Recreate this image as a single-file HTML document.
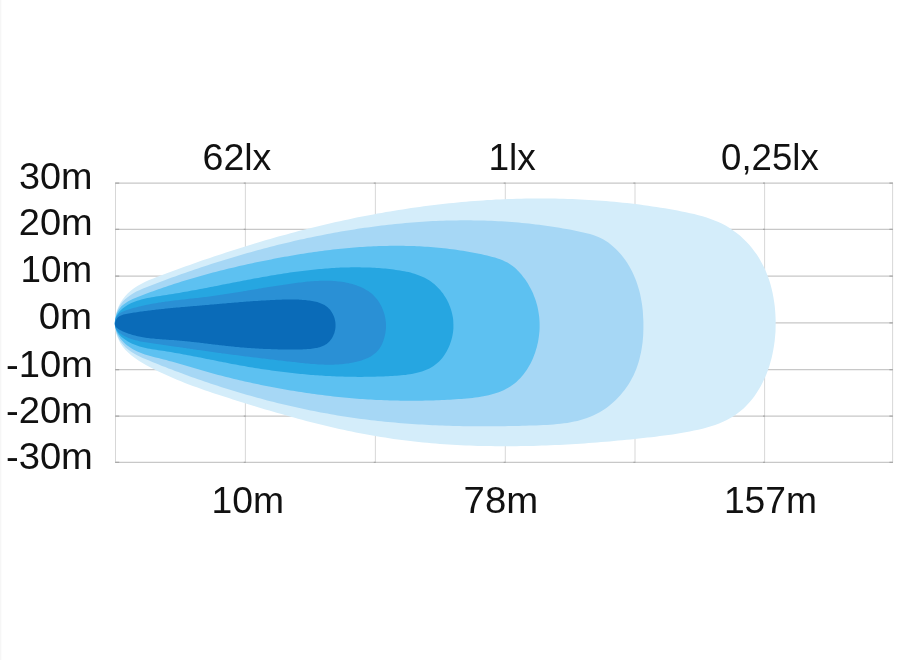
<!DOCTYPE html>
<html><head><meta charset="utf-8"><title>Beam pattern</title>
<style>
html,body{margin:0;padding:0;background:#fff;}
body{width:900px;height:660px;overflow:hidden;}
svg{display:block;}
text{font-family:"Liberation Sans",sans-serif;fill:#111;}
</style></head><body>
<svg width="900" height="660" viewBox="0 0 900 660">
<rect width="900" height="660" fill="#fff"/>
<rect x="0" y="0" width="1.3" height="660" fill="#f6f6f6"/>
<g fill="none">
<path stroke="#d3d3d3" stroke-width="0.9" d="M115.5 183.0V462.3M245.4 183.0V462.3M375.4 183.0V462.3M505.3 183.0V462.3M635.0 183.0V462.3M764.6 183.0V462.3M892.6 183.0V462.3"/>
<path stroke="#c8c8c8" stroke-width="1.25" d="M115.1 183.0H893.0M115.1 229.4H893.0M115.1 276.0H893.0M115.1 322.9H893.0M115.1 369.6H893.0M115.1 416.0H893.0M115.1 462.3H893.0"/>
<path stroke="#a9a9a9" stroke-width="1.25" d="M115.2 183.0h4M892.9 183.0h-3.5M243.8 183.0h2M373.8 183.0h2M503.7 183.0h2M633.4 183.0h2M763.0 183.0h2M115.2 229.4h4M892.9 229.4h-3.5M243.8 229.4h2M373.8 229.4h2M503.7 229.4h2M633.4 229.4h2M763.0 229.4h2M115.2 276.0h4M892.9 276.0h-3.5M243.8 276.0h2M373.8 276.0h2M503.7 276.0h2M633.4 276.0h2M763.0 276.0h2M115.2 322.9h4M892.9 322.9h-3.5M243.8 322.9h2M373.8 322.9h2M503.7 322.9h2M633.4 322.9h2M763.0 322.9h2M115.2 369.6h4M892.9 369.6h-3.5M243.8 369.6h2M373.8 369.6h2M503.7 369.6h2M633.4 369.6h2M763.0 369.6h2M115.2 416.0h4M892.9 416.0h-3.5M243.8 416.0h2M373.8 416.0h2M503.7 416.0h2M633.4 416.0h2M763.0 416.0h2M115.2 462.3h4M892.9 462.3h-3.5M243.8 462.3h2M373.8 462.3h2M503.7 462.3h2M633.4 462.3h2M763.0 462.3h2"/>
</g>
<g id="beam">
<path fill="#d4edfa" d="M114.8 323.4L115.1 319.1L115.8 314.9L116.9 310.8L118.4 306.8L120.3 303.0L122.6 299.4L125.1 296.2L127.9 293.2L131.0 290.5L134.3 288.1L137.8 285.8L141.5 283.7L145.3 281.8L149.2 280.0L153.2 278.4L157.3 276.8L161.4 275.2L165.5 273.7L169.5 272.2L173.6 270.7L177.7 269.2L181.7 267.7L185.8 266.3L189.8 264.9L193.8 263.4L197.9 262.0L201.9 260.6L205.9 259.2L209.9 257.9L213.9 256.5L217.9 255.2L221.9 253.9L226.0 252.5L230.0 251.2L234.0 250.0L238.0 248.7L242.0 247.4L246.0 246.2L250.0 244.9L254.0 243.7L258.1 242.5L262.1 241.3L266.1 240.1L270.2 238.9L274.2 237.8L278.3 236.6L282.4 235.5L286.5 234.4L290.5 233.3L294.6 232.2L298.7 231.1L302.8 230.1L306.9 229.0L311.0 228.0L315.2 227.0L319.3 226.0L323.4 225.0L327.6 224.0L331.7 223.0L335.8 222.1L340.0 221.2L344.1 220.3L348.3 219.4L352.5 218.5L356.6 217.6L360.8 216.8L365.0 216.0L369.2 215.2L373.3 214.4L377.5 213.6L381.7 212.9L385.9 212.1L390.1 211.4L394.3 210.7L398.5 210.0L402.7 209.4L406.9 208.7L411.1 208.1L415.3 207.5L419.5 206.9L423.8 206.3L428.0 205.8L432.2 205.2L436.4 204.7L440.6 204.2L444.9 203.8L449.1 203.3L453.3 202.9L457.6 202.5L461.8 202.1L466.0 201.7L470.3 201.3L474.5 201.0L478.7 200.7L483.0 200.4L487.2 200.1L491.5 199.9L495.7 199.6L499.9 199.4L504.2 199.2L508.4 199.1L512.7 198.9L516.9 198.8L521.2 198.7L525.4 198.6L529.7 198.5L533.9 198.5L538.1 198.4L542.4 198.4L546.6 198.5L550.9 198.5L555.1 198.6L559.4 198.7L563.6 198.8L567.8 198.9L572.1 199.1L576.3 199.2L580.5 199.4L584.8 199.7L589.0 199.9L593.2 200.2L597.5 200.5L601.7 200.8L605.9 201.1L610.2 201.5L614.4 201.8L618.6 202.3L622.8 202.7L627.0 203.1L631.3 203.6L635.5 204.1L639.7 204.6L643.9 205.2L648.1 205.8L652.3 206.4L656.5 207.0L660.7 207.7L664.9 208.3L669.1 209.1L673.3 209.8L677.5 210.6L681.7 211.4L685.9 212.3L690.0 213.2L694.2 214.1L698.4 215.2L702.5 216.3L706.6 217.5L710.6 218.9L714.5 220.4L718.4 222.0L722.2 223.8L726.0 225.8L729.6 228.0L733.1 230.4L736.6 232.9L739.9 235.6L743.0 238.5L746.1 241.5L749.0 244.6L751.7 247.8L754.3 251.2L756.8 254.6L759.0 258.1L761.1 261.7L763.1 265.4L764.9 269.1L766.5 272.9L768.0 276.8L769.4 280.8L770.6 284.8L771.7 288.9L772.6 293.0L773.4 297.2L774.1 301.4L774.7 305.7L775.1 310.0L775.4 314.4L775.6 318.7L775.7 323.1L775.6 327.5L775.5 331.9L775.1 336.3L774.7 340.7L774.1 345.0L773.4 349.3L772.6 353.6L771.6 357.9L770.5 362.0L769.3 366.2L767.9 370.2L766.4 374.2L764.7 378.1L762.9 381.9L761.0 385.7L758.9 389.3L756.7 392.8L754.4 396.2L751.9 399.4L749.3 402.5L746.5 405.5L743.6 408.4L740.5 411.0L737.3 413.5L733.9 415.9L730.4 418.1L726.8 420.0L723.0 421.8L719.1 423.5L715.1 425.0L711.0 426.3L706.8 427.6L702.6 428.7L698.3 429.7L694.0 430.6L689.7 431.5L685.4 432.3L681.1 433.0L676.8 433.7L672.6 434.4L668.4 435.0L664.1 435.6L659.9 436.1L655.7 436.7L651.6 437.2L647.4 437.6L643.2 438.1L639.0 438.5L634.8 439.0L630.7 439.4L626.5 439.8L622.3 440.2L618.1 440.6L613.9 441.0L609.7 441.4L605.5 441.8L601.2 442.1L597.0 442.4L592.8 442.8L588.6 443.1L584.4 443.4L580.1 443.7L575.9 443.9L571.7 444.2L567.4 444.5L563.2 444.7L558.9 444.9L554.7 445.1L550.4 445.3L546.2 445.5L542.0 445.6L537.7 445.8L533.4 445.9L529.2 446.0L524.9 446.1L520.7 446.1L516.4 446.2L512.2 446.2L507.9 446.3L503.7 446.3L499.4 446.2L495.2 446.2L490.9 446.1L486.6 446.1L482.4 446.0L478.1 445.9L473.9 445.7L469.6 445.6L465.4 445.4L461.1 445.2L456.9 445.0L452.6 444.7L448.4 444.5L444.2 444.2L439.9 443.9L435.7 443.5L431.5 443.2L427.2 442.8L423.0 442.4L418.8 442.0L414.5 441.5L410.3 441.0L406.1 440.5L401.9 440.0L397.7 439.4L393.5 438.9L389.3 438.2L385.1 437.6L380.9 437.0L376.7 436.3L372.5 435.6L368.3 434.8L364.2 434.0L360.0 433.2L355.8 432.4L351.7 431.6L347.5 430.7L343.4 429.8L339.2 428.9L335.1 428.0L330.9 427.0L326.8 426.1L322.7 425.1L318.5 424.0L314.4 423.0L310.3 422.0L306.2 420.9L302.1 419.8L298.0 418.7L293.9 417.6L289.8 416.4L285.7 415.3L281.6 414.1L277.5 413.0L273.4 411.8L269.4 410.6L265.3 409.4L261.2 408.2L257.2 406.9L253.1 405.7L249.1 404.5L245.0 403.2L241.0 401.9L236.9 400.7L232.9 399.4L228.8 398.1L224.8 396.8L220.8 395.5L216.8 394.2L212.8 392.9L208.7 391.5L204.7 390.2L200.8 388.8L196.8 387.3L192.8 385.9L188.8 384.4L184.9 382.9L180.9 381.3L177.0 379.7L173.0 378.0L169.1 376.3L165.2 374.5L161.3 372.7L157.4 370.9L153.6 368.9L149.7 367.0L145.9 364.9L142.1 362.7L138.4 360.5L134.9 358.1L131.5 355.5L128.4 352.8L125.5 349.9L122.8 346.8L120.5 343.4L118.6 339.7L117.0 335.9L115.8 331.8L115.1 327.6Z"/>
<path fill="#a6d7f5" d="M114.9 323.3L115.1 319.8L115.6 316.3L116.5 312.9L117.8 309.6L119.3 306.6L121.1 303.8L123.1 301.3L125.4 299.0L127.9 296.9L130.6 295.0L133.4 293.3L136.3 291.6L139.4 290.2L142.5 288.8L145.7 287.4L149.0 286.2L152.2 284.9L155.5 283.7L158.7 282.4L162.0 281.2L165.3 280.0L168.5 278.8L171.8 277.6L175.1 276.4L178.3 275.3L181.6 274.1L184.9 273.0L188.2 271.8L191.4 270.7L194.7 269.6L198.0 268.4L201.3 267.3L204.6 266.3L207.8 265.2L211.1 264.1L214.4 263.1L217.7 262.0L221.0 261.0L224.3 259.9L227.6 258.9L230.9 257.9L234.2 256.9L237.5 256.0L240.8 255.0L244.1 254.0L247.4 253.1L250.7 252.2L254.0 251.2L257.3 250.3L260.6 249.4L263.9 248.5L267.2 247.7L270.6 246.8L273.9 246.0L277.2 245.1L280.5 244.3L283.9 243.5L287.2 242.7L290.5 241.9L293.9 241.1L297.2 240.3L300.5 239.6L303.9 238.9L307.2 238.1L310.6 237.4L313.9 236.7L317.3 236.0L320.6 235.4L324.0 234.7L327.3 234.1L330.7 233.4L334.1 232.8L337.4 232.2L340.8 231.6L344.2 231.0L347.5 230.5L350.9 229.9L354.3 229.4L357.7 228.8L361.1 228.3L364.5 227.8L367.9 227.4L371.3 226.9L374.7 226.4L378.1 226.0L381.5 225.6L384.9 225.2L388.3 224.8L391.7 224.4L395.1 224.1L398.5 223.7L401.9 223.4L405.3 223.1L408.8 222.8L412.2 222.5L415.6 222.2L419.0 222.0L422.5 221.7L425.9 221.5L429.3 221.3L432.7 221.1L436.2 221.0L439.6 220.8L443.0 220.7L446.5 220.6L449.9 220.5L453.3 220.4L456.8 220.4L460.2 220.3L463.6 220.3L467.1 220.3L470.5 220.3L473.9 220.4L477.4 220.4L480.8 220.5L484.2 220.6L487.7 220.7L491.1 220.8L494.5 221.0L498.0 221.2L501.4 221.3L504.8 221.6L508.3 221.8L511.7 222.0L515.1 222.3L518.6 222.6L522.0 222.9L525.4 223.3L528.8 223.6L532.3 224.0L535.7 224.4L539.1 224.8L542.5 225.3L545.9 225.7L549.4 226.2L552.8 226.7L556.2 227.3L559.6 227.8L563.0 228.4L566.4 229.0L569.8 229.6L573.2 230.3L576.5 231.0L579.9 231.7L583.3 232.4L586.6 233.2L590.0 234.1L593.2 235.1L596.4 236.3L599.5 237.6L602.6 239.1L605.5 240.8L608.3 242.6L611.0 244.7L613.6 246.9L616.1 249.2L618.5 251.7L620.8 254.3L623.0 257.0L625.1 259.8L627.0 262.6L628.8 265.6L630.5 268.6L632.1 271.6L633.6 274.7L635.0 277.9L636.2 281.1L637.3 284.3L638.3 287.5L639.3 290.8L640.1 294.1L640.8 297.5L641.4 300.8L642.0 304.2L642.4 307.6L642.8 311.1L643.0 314.5L643.2 317.9L643.4 321.4L643.4 324.9L643.4 328.4L643.3 331.8L643.2 335.3L642.9 338.8L642.6 342.2L642.1 345.7L641.6 349.1L641.0 352.5L640.2 355.8L639.4 359.2L638.5 362.5L637.4 365.7L636.3 369.0L635.0 372.1L633.6 375.3L632.0 378.3L630.4 381.3L628.6 384.3L626.7 387.1L624.6 389.9L622.5 392.6L620.3 395.3L617.9 397.8L615.5 400.2L613.0 402.6L610.4 404.8L607.7 406.9L604.9 408.9L602.1 410.7L599.2 412.5L596.2 414.1L593.2 415.5L590.2 416.8L587.0 418.0L583.9 419.1L580.6 420.0L577.4 420.9L574.1 421.6L570.7 422.3L567.4 422.9L564.0 423.3L560.6 423.8L557.1 424.1L553.7 424.4L550.2 424.7L546.7 424.9L543.2 425.1L539.7 425.2L536.2 425.4L532.7 425.5L529.2 425.6L525.7 425.7L522.2 425.8L518.7 425.9L515.2 426.0L511.8 426.0L508.3 426.1L504.8 426.2L501.3 426.2L497.9 426.3L494.4 426.3L490.9 426.3L487.5 426.3L484.0 426.3L480.5 426.3L477.1 426.3L473.6 426.3L470.2 426.3L466.7 426.2L463.3 426.2L459.9 426.1L456.4 426.0L453.0 425.9L449.6 425.8L446.1 425.7L442.7 425.6L439.3 425.5L435.9 425.3L432.4 425.2L429.0 425.0L425.6 424.8L422.2 424.6L418.8 424.4L415.4 424.2L412.0 424.0L408.6 423.7L405.2 423.5L401.8 423.2L398.4 422.9L395.0 422.6L391.6 422.3L388.2 422.0L384.8 421.7L381.4 421.3L378.0 420.9L374.6 420.6L371.2 420.2L367.9 419.8L364.5 419.3L361.1 418.9L357.7 418.4L354.3 418.0L351.0 417.5L347.6 417.0L344.2 416.5L340.9 415.9L337.5 415.4L334.1 414.8L330.8 414.2L327.4 413.6L324.0 413.0L320.7 412.4L317.3 411.7L314.0 411.1L310.6 410.4L307.3 409.7L303.9 409.0L300.6 408.3L297.2 407.6L293.9 406.8L290.5 406.1L287.2 405.3L283.9 404.5L280.5 403.7L277.2 402.9L273.9 402.1L270.5 401.2L267.2 400.4L263.9 399.5L260.6 398.6L257.2 397.7L253.9 396.8L250.6 395.8L247.3 394.9L244.0 393.9L240.7 393.0L237.4 392.0L234.1 391.0L230.8 390.0L227.5 389.0L224.2 387.9L220.9 386.9L217.6 385.8L214.3 384.7L211.0 383.7L207.7 382.6L204.4 381.4L201.2 380.3L197.9 379.2L194.6 378.0L191.3 376.9L188.1 375.7L184.8 374.5L181.6 373.3L178.3 372.1L175.0 370.9L171.8 369.6L168.5 368.4L165.3 367.1L162.0 365.9L158.8 364.6L155.6 363.3L152.3 362.0L149.1 360.6L145.9 359.3L142.7 357.9L139.6 356.5L136.6 354.9L133.6 353.3L130.8 351.5L128.2 349.5L125.7 347.4L123.4 345.1L121.4 342.6L119.5 339.9L118.0 336.9L116.7 333.7L115.7 330.3L115.1 326.8Z"/>
<path fill="#5dc1f1" d="M114.9 323.2L115.0 320.4L115.4 317.7L116.2 315.1L117.2 312.6L118.5 310.2L120.0 308.1L121.7 306.1L123.6 304.4L125.7 302.9L127.9 301.5L130.3 300.2L132.7 299.0L135.2 298.0L137.7 296.9L140.3 295.9L142.9 295.0L145.4 294.0L148.0 293.0L150.6 292.1L153.1 291.2L155.7 290.2L158.3 289.3L160.9 288.4L163.4 287.5L166.0 286.7L168.6 285.8L171.2 284.9L173.8 284.1L176.4 283.3L179.0 282.4L181.6 281.6L184.2 280.8L186.8 280.0L189.4 279.2L192.0 278.5L194.6 277.7L197.2 276.9L199.8 276.2L202.4 275.5L205.0 274.7L207.7 274.0L210.3 273.3L212.9 272.6L215.5 271.9L218.1 271.3L220.8 270.6L223.4 269.9L226.0 269.3L228.7 268.6L231.3 268.0L233.9 267.4L236.6 266.7L239.2 266.1L241.9 265.5L244.5 264.9L247.2 264.3L249.8 263.7L252.5 263.2L255.1 262.6L257.8 262.0L260.4 261.5L263.1 260.9L265.8 260.4L268.4 259.9L271.1 259.4L273.8 258.8L276.4 258.3L279.1 257.8L281.8 257.3L284.5 256.8L287.1 256.4L289.8 255.9L292.5 255.4L295.2 255.0L297.9 254.5L300.6 254.1L303.2 253.7L305.9 253.2L308.6 252.8L311.3 252.4L314.0 252.0L316.7 251.7L319.4 251.3L322.1 250.9L324.8 250.6L327.5 250.2L330.2 249.9L332.9 249.6L335.6 249.3L338.3 249.0L341.0 248.7L343.7 248.4L346.4 248.2L349.1 247.9L351.8 247.7L354.5 247.5L357.2 247.3L359.9 247.1L362.7 246.9L365.4 246.7L368.1 246.6L370.8 246.4L373.5 246.3L376.2 246.2L378.9 246.1L381.6 246.0L384.3 245.9L387.0 245.9L389.8 245.8L392.5 245.8L395.2 245.8L397.9 245.8L400.6 245.8L403.3 245.8L406.0 245.9L408.7 245.9L411.5 246.0L414.2 246.1L416.9 246.2L419.6 246.3L422.3 246.5L425.0 246.7L427.7 246.8L430.4 247.0L433.1 247.3L435.8 247.5L438.5 247.7L441.2 248.0L443.9 248.3L446.7 248.6L449.4 248.9L452.1 249.3L454.8 249.6L457.5 250.0L460.2 250.4L462.9 250.8L465.6 251.3L468.2 251.7L470.9 252.2L473.6 252.7L476.3 253.2L479.0 253.8L481.7 254.3L484.4 254.9L487.1 255.5L489.7 256.2L492.4 256.9L495.0 257.6L497.6 258.4L500.1 259.3L502.6 260.3L505.0 261.4L507.4 262.6L509.7 264.0L511.9 265.5L514.0 267.1L516.0 268.8L517.9 270.7L519.8 272.7L521.6 274.7L523.2 276.9L524.9 279.0L526.4 281.3L527.9 283.5L529.2 285.9L530.5 288.3L531.8 290.7L532.9 293.1L533.9 295.7L534.9 298.2L535.8 300.8L536.6 303.4L537.3 306.0L537.9 308.7L538.4 311.4L538.8 314.1L539.2 316.8L539.4 319.6L539.6 322.4L539.6 325.1L539.6 327.9L539.5 330.7L539.2 333.5L538.9 336.3L538.5 339.1L538.0 341.9L537.4 344.6L536.7 347.4L535.9 350.0L535.1 352.7L534.1 355.3L533.1 357.9L532.0 360.4L530.8 362.9L529.5 365.3L528.2 367.6L526.7 369.9L525.2 372.1L523.6 374.2L521.9 376.3L520.2 378.2L518.3 380.1L516.4 381.9L514.5 383.5L512.4 385.0L510.3 386.5L508.1 387.8L505.9 389.0L503.6 390.2L501.2 391.2L498.8 392.2L496.3 393.0L493.8 393.8L491.2 394.6L488.6 395.2L486.0 395.8L483.3 396.3L480.6 396.8L477.9 397.2L475.1 397.6L472.4 397.9L469.6 398.2L466.8 398.5L464.0 398.7L461.2 398.9L458.4 399.1L455.6 399.3L452.8 399.5L450.0 399.7L447.2 399.8L444.5 399.9L441.7 400.1L438.9 400.2L436.2 400.3L433.4 400.4L430.6 400.5L427.9 400.5L425.1 400.6L422.4 400.7L419.6 400.7L416.9 400.7L414.2 400.7L411.4 400.7L408.7 400.7L406.0 400.7L403.2 400.7L400.5 400.7L397.8 400.6L395.1 400.6L392.4 400.5L389.7 400.4L387.0 400.3L384.3 400.2L381.5 400.1L378.9 400.0L376.2 399.9L373.5 399.7L370.8 399.6L368.1 399.4L365.4 399.2L362.7 399.1L360.0 398.9L357.3 398.7L354.6 398.5L352.0 398.2L349.3 398.0L346.6 397.8L343.9 397.5L341.2 397.2L338.6 397.0L335.9 396.7L333.2 396.4L330.5 396.1L327.9 395.8L325.2 395.5L322.5 395.1L319.8 394.8L317.2 394.4L314.5 394.1L311.8 393.7L309.2 393.3L306.5 392.9L303.8 392.5L301.1 392.1L298.5 391.7L295.8 391.3L293.1 390.8L290.4 390.4L287.8 389.9L285.1 389.5L282.4 389.0L279.7 388.5L277.1 388.0L274.4 387.5L271.7 387.0L269.0 386.5L266.3 386.0L263.6 385.4L261.0 384.9L258.3 384.3L255.6 383.7L252.9 383.2L250.2 382.6L247.5 382.0L244.8 381.4L242.1 380.8L239.5 380.2L236.8 379.5L234.1 378.9L231.4 378.2L228.8 377.6L226.1 376.9L223.5 376.3L220.8 375.6L218.2 374.9L215.6 374.2L212.9 373.5L210.3 372.8L207.7 372.0L205.1 371.3L202.5 370.6L200.0 369.8L197.4 369.1L194.8 368.3L192.3 367.6L189.7 366.8L187.1 366.0L184.6 365.3L182.0 364.5L179.4 363.8L176.8 363.0L174.2 362.3L171.6 361.6L169.0 360.9L166.3 360.1L163.7 359.5L161.0 358.8L158.3 358.1L155.6 357.4L152.9 356.7L150.2 356.0L147.6 355.2L144.9 354.4L142.3 353.5L139.8 352.5L137.3 351.4L134.8 350.3L132.5 349.0L130.2 347.6L128.0 346.0L125.9 344.4L123.9 342.5L122.0 340.5L120.3 338.4L118.8 336.1L117.5 333.7L116.4 331.2L115.6 328.6L115.1 325.9Z"/>
<path fill="#26a6e1" d="M114.8 323.3L114.9 321.2L115.3 319.1L116.0 317.1L116.9 315.2L118.0 313.4L119.3 311.7L120.7 310.2L122.3 308.7L124.0 307.4L125.7 306.2L127.6 305.1L129.4 304.1L131.3 303.1L133.3 302.3L135.2 301.5L137.2 300.8L139.2 300.2L141.2 299.6L143.3 299.0L145.4 298.5L147.4 298.1L149.5 297.7L151.7 297.3L153.8 296.9L155.9 296.6L158.0 296.2L160.2 295.9L162.3 295.6L164.4 295.3L166.6 294.9L168.7 294.6L170.8 294.3L172.9 293.9L175.0 293.6L177.1 293.2L179.2 292.9L181.3 292.5L183.4 292.1L185.5 291.8L187.6 291.4L189.7 291.0L191.8 290.6L193.9 290.2L195.9 289.9L198.0 289.5L200.1 289.1L202.2 288.7L204.3 288.3L206.3 287.9L208.4 287.5L210.5 287.1L212.6 286.7L214.6 286.3L216.7 285.9L218.8 285.5L220.9 285.1L222.9 284.6L225.0 284.2L227.1 283.8L229.2 283.4L231.2 283.0L233.3 282.6L235.4 282.2L237.5 281.8L239.5 281.4L241.6 281.0L243.7 280.6L245.8 280.2L247.9 279.8L250.0 279.4L252.0 279.0L254.1 278.6L256.2 278.2L258.3 277.9L260.4 277.5L262.5 277.1L264.6 276.7L266.7 276.4L268.8 276.0L270.9 275.6L273.0 275.3L275.1 274.9L277.2 274.6L279.3 274.3L281.4 273.9L283.5 273.6L285.6 273.3L287.7 273.0L289.8 272.6L291.9 272.3L294.0 272.0L296.1 271.8L298.2 271.5L300.3 271.2L302.4 270.9L304.5 270.7L306.6 270.4L308.8 270.2L310.9 269.9L313.0 269.7L315.1 269.5L317.2 269.3L319.3 269.1L321.4 268.9L323.6 268.7L325.7 268.5L327.8 268.4L329.9 268.2L332.0 268.1L334.2 268.0L336.3 267.8L338.4 267.7L340.5 267.6L342.7 267.6L344.8 267.5L346.9 267.4L349.0 267.4L351.1 267.3L353.3 267.3L355.4 267.3L357.5 267.3L359.7 267.3L361.8 267.4L363.9 267.4L366.0 267.5L368.2 267.5L370.3 267.6L372.4 267.7L374.6 267.8L376.7 268.0L378.8 268.1L380.9 268.3L383.1 268.4L385.2 268.6L387.3 268.8L389.5 269.1L391.6 269.3L393.7 269.6L395.9 269.9L398.0 270.2L400.1 270.5L402.2 270.9L404.3 271.2L406.4 271.7L408.5 272.1L410.5 272.6L412.5 273.2L414.5 273.8L416.5 274.5L418.5 275.2L420.4 275.9L422.3 276.7L424.1 277.6L426.0 278.5L427.7 279.6L429.5 280.6L431.2 281.8L432.8 283.0L434.5 284.3L436.0 285.7L437.5 287.2L439.0 288.7L440.4 290.3L441.7 291.9L443.0 293.6L444.2 295.4L445.4 297.2L446.5 299.1L447.5 301.0L448.5 303.0L449.3 305.0L450.1 307.0L450.8 309.1L451.5 311.2L452.0 313.3L452.5 315.5L452.9 317.6L453.2 319.8L453.3 322.0L453.4 324.2L453.4 326.4L453.4 328.6L453.2 330.8L452.9 333.0L452.5 335.2L452.1 337.3L451.5 339.5L450.9 341.6L450.2 343.6L449.4 345.7L448.6 347.6L447.6 349.6L446.6 351.5L445.5 353.3L444.4 355.1L443.2 356.8L441.9 358.4L440.5 359.9L439.1 361.4L437.6 362.8L436.1 364.1L434.5 365.3L432.8 366.4L431.1 367.4L429.4 368.4L427.6 369.2L425.7 370.0L423.9 370.8L421.9 371.4L420.0 372.1L418.0 372.6L416.0 373.1L413.9 373.5L411.8 373.9L409.7 374.3L407.6 374.6L405.5 374.9L403.3 375.1L401.1 375.3L399.0 375.5L396.8 375.7L394.6 375.8L392.4 376.0L390.2 376.1L388.0 376.2L385.8 376.3L383.7 376.4L381.5 376.5L379.3 376.5L377.1 376.6L375.0 376.7L372.8 376.7L370.7 376.8L368.5 376.8L366.3 376.8L364.2 376.8L362.0 376.9L359.9 376.9L357.7 376.9L355.6 376.8L353.5 376.8L351.3 376.8L349.2 376.8L347.1 376.7L344.9 376.7L342.8 376.6L340.7 376.5L338.5 376.5L336.4 376.4L334.3 376.3L332.2 376.2L330.1 376.1L328.0 376.0L325.8 375.9L323.7 375.8L321.6 375.6L319.5 375.5L317.4 375.3L315.3 375.2L313.2 375.0L311.1 374.9L309.0 374.7L306.9 374.5L304.8 374.3L302.7 374.1L300.6 373.9L298.5 373.7L296.4 373.5L294.3 373.3L292.2 373.1L290.1 372.8L288.1 372.6L286.0 372.3L283.9 372.1L281.8 371.8L279.7 371.6L277.6 371.3L275.5 371.0L273.4 370.7L271.4 370.4L269.3 370.1L267.2 369.8L265.1 369.5L263.0 369.2L260.9 368.9L258.9 368.6L256.8 368.2L254.7 367.9L252.6 367.6L250.5 367.2L248.4 366.9L246.4 366.5L244.3 366.1L242.2 365.8L240.1 365.4L238.0 365.0L235.9 364.6L233.9 364.3L231.8 363.9L229.7 363.5L227.6 363.1L225.5 362.6L223.4 362.2L221.3 361.8L219.2 361.4L217.2 361.0L215.1 360.6L213.0 360.1L210.9 359.7L208.8 359.3L206.7 358.9L204.6 358.5L202.5 358.0L200.4 357.6L198.3 357.2L196.2 356.8L194.1 356.4L192.0 356.0L189.9 355.6L187.8 355.2L185.7 354.8L183.6 354.4L181.5 354.0L179.4 353.6L177.3 353.2L175.2 352.9L173.1 352.5L170.9 352.1L168.8 351.8L166.7 351.5L164.6 351.1L162.5 350.8L160.4 350.5L158.2 350.2L156.1 349.8L154.0 349.5L151.9 349.2L149.8 348.8L147.7 348.4L145.7 348.0L143.6 347.5L141.6 346.9L139.6 346.4L137.6 345.7L135.6 345.0L133.6 344.3L131.7 343.4L129.8 342.5L127.9 341.4L126.1 340.3L124.3 339.1L122.6 337.8L121.0 336.4L119.5 334.8L118.2 333.1L117.0 331.3L116.1 329.4L115.4 327.4L114.9 325.4Z"/>
<path fill="#2a90d5" d="M114.8 323.4L115.0 321.6L115.3 319.9L115.9 318.3L116.7 316.7L117.7 315.3L118.8 314.1L120.1 313.1L121.5 312.2L123.0 311.5L124.5 310.9L126.1 310.3L127.7 309.8L129.3 309.3L130.9 308.8L132.5 308.3L134.1 307.8L135.8 307.4L137.4 307.0L139.0 306.6L140.7 306.2L142.3 305.8L144.0 305.4L145.6 305.1L147.3 304.7L148.9 304.4L150.6 304.1L152.2 303.8L153.9 303.5L155.6 303.2L157.2 302.9L158.9 302.6L160.6 302.4L162.3 302.1L163.9 301.9L165.6 301.6L167.3 301.4L169.0 301.2L170.7 301.0L172.4 300.8L174.0 300.6L175.7 300.3L177.4 300.2L179.1 300.0L180.8 299.8L182.5 299.6L184.2 299.4L185.9 299.2L187.5 299.0L189.2 298.8L190.9 298.6L192.6 298.5L194.3 298.3L196.0 298.1L197.7 297.9L199.3 297.7L201.0 297.5L202.7 297.3L204.4 297.1L206.0 296.9L207.7 296.7L209.4 296.5L211.1 296.2L212.7 296.0L214.4 295.8L216.1 295.5L217.7 295.3L219.4 295.1L221.0 294.8L222.7 294.6L224.3 294.3L226.0 294.1L227.7 293.8L229.3 293.6L231.0 293.3L232.6 293.0L234.3 292.8L235.9 292.5L237.6 292.2L239.2 292.0L240.9 291.7L242.5 291.4L244.2 291.1L245.8 290.9L247.5 290.6L249.1 290.3L250.8 290.0L252.4 289.8L254.1 289.5L255.7 289.2L257.4 288.9L259.0 288.6L260.7 288.4L262.4 288.1L264.0 287.8L265.7 287.5L267.3 287.3L269.0 287.0L270.6 286.7L272.3 286.5L274.0 286.2L275.6 285.9L277.3 285.7L279.0 285.4L280.7 285.2L282.3 284.9L284.0 284.7L285.7 284.4L287.4 284.2L289.1 283.9L290.7 283.7L292.4 283.5L294.1 283.2L295.8 283.0L297.5 282.8L299.2 282.6L300.9 282.4L302.6 282.2L304.3 282.0L306.0 281.8L307.7 281.6L309.4 281.5L311.1 281.3L312.9 281.2L314.6 281.1L316.3 281.0L318.0 280.9L319.7 280.8L321.4 280.7L323.1 280.7L324.8 280.7L326.5 280.7L328.2 280.7L329.9 280.8L331.5 280.8L333.2 280.9L334.9 281.0L336.6 281.2L338.3 281.4L339.9 281.6L341.6 281.8L343.2 282.1L344.9 282.3L346.5 282.7L348.2 283.0L349.8 283.4L351.4 283.8L353.0 284.3L354.6 284.8L356.2 285.3L357.8 285.9L359.3 286.5L360.9 287.1L362.4 287.8L363.9 288.6L365.4 289.4L366.8 290.2L368.2 291.1L369.5 292.1L370.9 293.1L372.2 294.1L373.4 295.3L374.6 296.4L375.7 297.7L376.8 299.0L377.8 300.3L378.8 301.8L379.7 303.2L380.6 304.8L381.4 306.3L382.1 308.0L382.8 309.6L383.4 311.2L384.0 312.9L384.5 314.5L384.9 316.2L385.2 317.8L385.5 319.5L385.7 321.1L385.9 322.7L386.0 324.3L386.0 325.9L386.0 327.5L385.9 329.1L385.7 330.7L385.5 332.3L385.2 334.0L384.8 335.7L384.4 337.4L383.9 339.1L383.3 340.9L382.7 342.6L382.0 344.3L381.2 345.8L380.3 347.3L379.4 348.8L378.3 350.1L377.2 351.3L376.1 352.5L374.8 353.6L373.5 354.6L372.2 355.5L370.8 356.4L369.3 357.2L367.8 357.9L366.3 358.6L364.7 359.2L363.1 359.8L361.5 360.4L359.9 360.9L358.3 361.3L356.6 361.7L355.0 362.1L353.3 362.5L351.7 362.8L350.0 363.1L348.4 363.4L346.7 363.6L345.0 363.8L343.3 364.0L341.7 364.2L340.0 364.3L338.3 364.4L336.6 364.5L335.0 364.6L333.3 364.7L331.6 364.7L329.9 364.7L328.2 364.7L326.5 364.7L324.8 364.7L323.1 364.6L321.5 364.5L319.8 364.4L318.1 364.4L316.4 364.2L314.7 364.1L313.0 364.0L311.3 363.9L309.6 363.7L307.9 363.6L306.2 363.4L304.5 363.2L302.8 363.0L301.1 362.9L299.4 362.7L297.7 362.5L296.0 362.3L294.4 362.1L292.7 361.9L291.0 361.7L289.3 361.6L287.6 361.4L285.9 361.2L284.2 361.0L282.6 360.8L280.9 360.6L279.2 360.4L277.5 360.2L275.8 360.0L274.2 359.8L272.5 359.6L270.8 359.4L269.1 359.2L267.4 359.0L265.8 358.8L264.1 358.6L262.4 358.4L260.8 358.2L259.1 358.0L257.4 357.8L255.7 357.6L254.1 357.4L252.4 357.2L250.7 357.0L249.1 356.8L247.4 356.6L245.7 356.4L244.1 356.2L242.4 356.0L240.7 355.8L239.1 355.5L237.4 355.3L235.7 355.1L234.1 354.9L232.4 354.7L230.7 354.5L229.1 354.2L227.4 354.0L225.7 353.8L224.1 353.6L222.4 353.4L220.7 353.1L219.1 352.9L217.4 352.7L215.7 352.4L214.1 352.2L212.4 352.0L210.7 351.8L209.1 351.5L207.4 351.3L205.7 351.1L204.1 350.8L202.4 350.6L200.7 350.3L199.1 350.1L197.4 349.9L195.7 349.6L194.1 349.4L192.4 349.1L190.7 348.9L189.1 348.6L187.4 348.4L185.7 348.1L184.0 347.9L182.4 347.6L180.7 347.4L179.0 347.1L177.3 346.9L175.7 346.7L174.0 346.4L172.3 346.2L170.6 345.9L169.0 345.7L167.3 345.4L165.6 345.2L163.9 344.9L162.2 344.7L160.6 344.4L158.9 344.2L157.2 343.9L155.5 343.7L153.8 343.5L152.1 343.2L150.4 343.0L148.7 342.7L147.1 342.5L145.4 342.2L143.7 342.0L142.0 341.7L140.4 341.4L138.7 341.0L137.1 340.6L135.4 340.2L133.8 339.8L132.2 339.3L130.6 338.8L129.1 338.2L127.5 337.5L126.0 336.8L124.5 336.1L123.0 335.2L121.6 334.3L120.2 333.3L118.9 332.2L117.7 331.0L116.7 329.7L115.9 328.3L115.3 326.7L114.9 325.1Z"/>
<path fill="#0a6bb8" d="M114.9 323.8L115.1 322.5L115.5 321.2L116.0 319.9L116.8 318.7L117.7 317.6L118.7 316.7L119.8 315.9L121.0 315.4L122.2 314.9L123.4 314.5L124.8 314.2L126.1 313.9L127.4 313.7L128.8 313.5L130.1 313.3L131.4 313.0L132.8 312.8L134.1 312.6L135.4 312.4L136.7 312.2L138.1 312.0L139.4 311.8L140.7 311.6L142.1 311.4L143.4 311.3L144.7 311.1L146.0 310.9L147.4 310.7L148.7 310.6L150.0 310.4L151.3 310.2L152.7 310.1L154.0 309.9L155.3 309.8L156.6 309.6L157.9 309.5L159.3 309.3L160.6 309.2L161.9 309.0L163.2 308.9L164.6 308.7L165.9 308.6L167.2 308.5L168.5 308.3L169.8 308.2L171.1 308.1L172.5 308.0L173.8 307.8L175.1 307.7L176.4 307.6L177.7 307.5L179.1 307.4L180.4 307.2L181.7 307.1L183.0 307.0L184.3 306.9L185.7 306.8L187.0 306.7L188.3 306.6L189.6 306.4L190.9 306.3L192.3 306.2L193.6 306.1L194.9 306.0L196.2 305.9L197.6 305.8L198.9 305.7L200.2 305.6L201.5 305.4L202.8 305.3L204.2 305.2L205.5 305.1L206.8 305.0L208.2 304.9L209.5 304.8L210.8 304.6L212.1 304.5L213.5 304.4L214.8 304.3L216.1 304.2L217.5 304.1L218.8 303.9L220.1 303.8L221.5 303.7L222.8 303.6L224.1 303.5L225.4 303.4L226.8 303.3L228.1 303.1L229.4 303.0L230.8 302.9L232.1 302.8L233.4 302.7L234.8 302.6L236.1 302.5L237.4 302.4L238.8 302.2L240.1 302.1L241.4 302.0L242.8 301.9L244.1 301.8L245.4 301.7L246.8 301.6L248.1 301.5L249.4 301.4L250.8 301.3L252.1 301.2L253.4 301.1L254.8 301.0L256.1 300.9L257.4 300.9L258.8 300.8L260.1 300.7L261.4 300.6L262.8 300.5L264.1 300.4L265.4 300.4L266.7 300.3L268.1 300.2L269.4 300.2L270.7 300.1L272.0 300.0L273.4 300.0L274.7 299.9L276.0 299.8L277.3 299.8L278.7 299.7L280.0 299.7L281.3 299.7L282.6 299.6L283.9 299.6L285.3 299.6L286.6 299.5L287.9 299.5L289.2 299.5L290.5 299.5L291.9 299.5L293.2 299.5L294.5 299.5L295.8 299.6L297.2 299.6L298.5 299.6L299.8 299.7L301.2 299.8L302.5 299.9L303.9 300.0L305.2 300.1L306.6 300.2L307.9 300.4L309.3 300.6L310.6 300.7L312.0 301.0L313.3 301.2L314.6 301.5L315.9 301.8L317.2 302.1L318.5 302.5L319.8 302.9L321.0 303.4L322.2 303.9L323.3 304.5L324.5 305.1L325.5 305.8L326.6 306.5L327.6 307.3L328.5 308.2L329.4 309.1L330.3 310.1L331.1 311.2L331.8 312.3L332.5 313.5L333.1 314.7L333.7 316.0L334.2 317.2L334.6 318.6L334.9 319.9L335.2 321.2L335.4 322.6L335.5 324.0L335.5 325.4L335.5 326.7L335.4 328.1L335.2 329.4L334.9 330.8L334.6 332.1L334.2 333.4L333.7 334.6L333.2 335.8L332.6 337.0L331.9 338.2L331.2 339.3L330.4 340.3L329.6 341.3L328.6 342.2L327.7 343.1L326.7 343.9L325.6 344.6L324.5 345.2L323.3 345.8L322.1 346.3L320.9 346.8L319.6 347.2L318.3 347.5L317.0 347.9L315.6 348.1L314.3 348.3L312.9 348.5L311.5 348.7L310.2 348.9L308.8 349.0L307.4 349.1L306.1 349.2L304.8 349.3L303.4 349.3L302.1 349.4L300.8 349.4L299.4 349.5L298.1 349.5L296.8 349.5L295.5 349.5L294.2 349.5L292.9 349.5L291.5 349.5L290.2 349.5L288.9 349.5L287.6 349.5L286.3 349.5L284.9 349.5L283.6 349.5L282.3 349.4L281.0 349.4L279.6 349.4L278.3 349.4L277.0 349.3L275.7 349.3L274.3 349.3L273.0 349.2L271.7 349.2L270.3 349.1L269.0 349.1L267.7 349.0L266.3 349.0L265.0 348.9L263.7 348.9L262.3 348.8L261.0 348.7L259.7 348.7L258.3 348.6L257.0 348.5L255.7 348.4L254.3 348.3L253.0 348.3L251.7 348.2L250.3 348.1L249.0 348.0L247.7 347.9L246.3 347.8L245.0 347.7L243.7 347.6L242.3 347.5L241.0 347.4L239.7 347.2L238.3 347.1L237.0 347.0L235.7 346.9L234.4 346.8L233.0 346.6L231.7 346.5L230.4 346.3L229.1 346.2L227.7 346.1L226.4 345.9L225.1 345.8L223.8 345.6L222.4 345.5L221.1 345.3L219.8 345.2L218.5 345.0L217.1 344.8L215.8 344.7L214.5 344.5L213.2 344.4L211.9 344.2L210.5 344.1L209.2 343.9L207.9 343.7L206.6 343.6L205.3 343.4L203.9 343.3L202.6 343.1L201.3 342.9L200.0 342.8L198.7 342.6L197.3 342.5L196.0 342.3L194.7 342.2L193.4 342.0L192.1 341.9L190.7 341.7L189.4 341.6L188.1 341.5L186.8 341.3L185.4 341.2L184.1 341.1L182.8 340.9L181.5 340.8L180.1 340.7L178.8 340.6L177.5 340.5L176.2 340.3L174.8 340.2L173.5 340.1L172.2 340.1L170.9 340.0L169.5 339.9L168.2 339.8L166.9 339.7L165.5 339.6L164.2 339.5L162.9 339.4L161.5 339.3L160.2 339.2L158.9 339.1L157.6 339.0L156.2 338.9L154.9 338.8L153.6 338.6L152.3 338.5L150.9 338.4L149.6 338.2L148.3 338.0L147.0 337.9L145.7 337.7L144.3 337.5L143.0 337.2L141.7 337.0L140.4 336.8L139.1 336.5L137.8 336.2L136.5 335.9L135.2 335.6L133.9 335.3L132.6 334.9L131.3 334.5L130.0 334.1L128.7 333.7L127.5 333.2L126.2 332.8L124.9 332.3L123.6 331.7L122.4 331.2L121.1 330.6L119.9 330.0L118.7 329.3L117.7 328.6L116.8 327.8L116.0 326.9L115.4 326.0L115.0 324.9Z"/>
</g>
<g font-size="36.7">
<text x="18.9" y="189.4" textLength="73.5" lengthAdjust="spacingAndGlyphs">30m</text>
<text x="18.8" y="234.6" textLength="73.9" lengthAdjust="spacingAndGlyphs">20m</text>
<text x="20.6" y="281.5" textLength="71.5" lengthAdjust="spacingAndGlyphs">10m</text>
<text x="38.7" y="329.3" textLength="53.4" lengthAdjust="spacingAndGlyphs">0m</text>
<text x="6.0" y="376.6" textLength="86.9" lengthAdjust="spacingAndGlyphs">-10m</text>
<text x="6.0" y="423.0" textLength="86.9" lengthAdjust="spacingAndGlyphs">-20m</text>
<text x="6.0" y="469.3" textLength="86.9" lengthAdjust="spacingAndGlyphs">-30m</text>
<text x="202.5" y="170.0" textLength="68.9" lengthAdjust="spacingAndGlyphs">62lx</text>
<text x="488.5" y="170.0" textLength="47.4" lengthAdjust="spacingAndGlyphs">1lx</text>
<text x="721.1" y="170.0" textLength="97.6" lengthAdjust="spacingAndGlyphs">0,25lx</text>
<text x="211.6" y="512.8" textLength="72.5" lengthAdjust="spacingAndGlyphs">10m</text>
<text x="463.6" y="512.8" textLength="74.6" lengthAdjust="spacingAndGlyphs">78m</text>
<text x="723.9" y="512.8" textLength="93.1" lengthAdjust="spacingAndGlyphs">157m</text>
</g>
</svg>
</body></html>
